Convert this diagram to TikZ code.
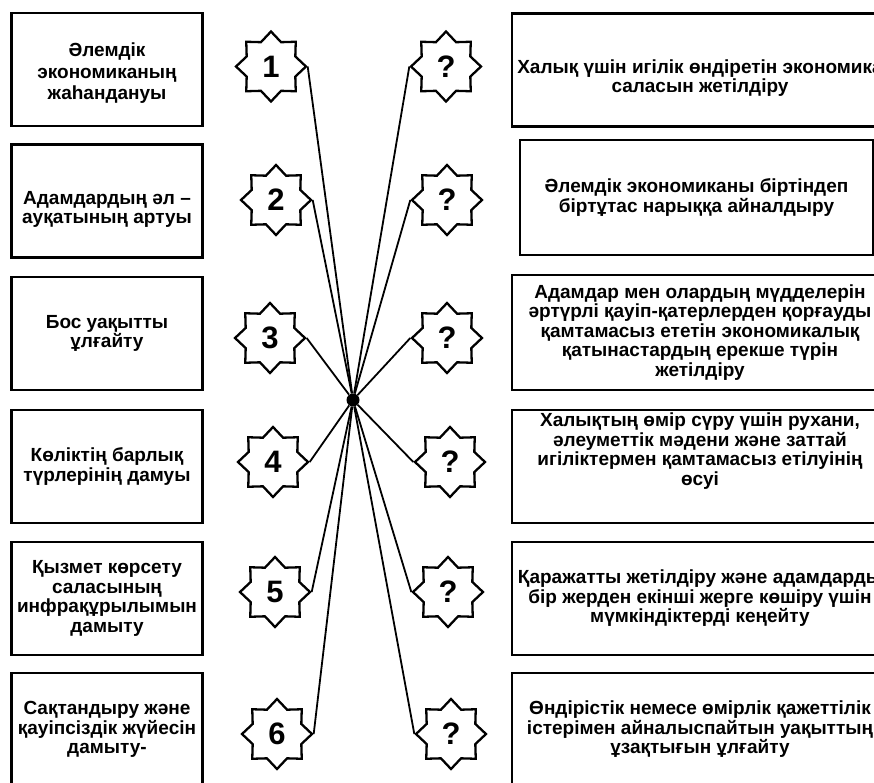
\documentclass[tikz,border=0pt]{standalone}
\usepackage{fontspec}
\setmainfont{Liberation Sans}
\usetikzlibrary{shapes.geometric}
\definecolor{kzink}{HTML}{000000}

\begin{document}
\begin{tikzpicture}[x=1pt, y=-1pt, line join=miter,
    box/.style={draw=kzink, line width=2.4pt, minimum height=113pt, inner sep=2pt, align=center,
      font=\fontsize{19}{19.5}\selectfont\bfseries},
    lbox/.style={box, minimum width=191pt},
    rbox/.style={box, minimum width=376pt},
    badge/.style={star, star points=8, star point ratio=1.33, draw=kzink, line width=2.3pt, fill=white,
      minimum size=70pt, inner sep=0pt, font=\fontsize{31}{31}\selectfont\bfseries},
    link/.style={draw=kzink, line width=1.8pt}]
  \useasboundingbox (0,0) rectangle (874,782);
  \clip (0,0) rectangle (874,782);
  \node[lbox] (lb1) at (107,69.5) {\rule{0pt}{21pt}Әлемдік\\[2pt]экономиканың\\[2pt]жаһандануы};
  \node[lbox] (lb2) at (107,201) {\rule{0pt}{30pt}Адамдардың әл –\\ауқатының артуы};
  \node[lbox] (lb3) at (107,333.5) {Бос уақытты\\ұлғайту};
  \node[lbox] (lb4) at (107,466.5) {Көліктің барлық\\түрлерінің дамуы};
  \node[lbox] (lb5) at (107,598.5) {Қызмет көрсету\\саласының\\инфрақұрылымын\\дамыту};
  \node[lbox] (lb6) at (107,729.5) {Сақтандыру және\\қауіпсіздік жүйесін\\дамыту-};
  \node[rbox] (rb1) at (700,70) {\rule{0pt}{30pt}Халық үшін игілік өндіретін экономика\\саласын жетілдіру};
  \node[rbox, minimum width=353pt, minimum height=115pt] (rb2) at (696.5,197.5)
    {Әлемдік экономиканы біртіндеп\\біртұтас нарыққа айналдыру};
  \node[rbox, minimum height=115pt] (rb3) at (700,332.5) {Адамдар мен олардың мүдделерін\\әртүрлі қауіп-қатерлерден қорғауды\\қамтамасыз ететін экономикалық\\қатынастардың ерекше түрін\\жетілдіру};
  \node[rbox] (rb4) at (700,466.5) {Халықтың өмір сүру үшін рухани,\\әлеуметтік мәдени және заттай\\игіліктермен қамтамасыз етілуінің\\өсуі\\[15pt]{}};
  \node[rbox] (rb5) at (700,598.5) {Қаражатты жетілдіру және адамдарды\\бір жерден екінші жерге көшіру үшін\\мүмкіндіктерді кеңейту};
  \node[rbox] (rb6) at (700,729.5) {Өндірістік немесе өмірлік қажеттілік\\істерімен айналыспайтын уақыттың\\ұзақтығын ұлғайту};
  \node[circle, fill=kzink, minimum size=13pt, inner sep=0pt] (hub) at (353,400) {};
  \foreach \i/\yy/\lx/\rx in {1/66.5/271/446, 2/200/276/447, 3/338/270/447,
                              4/462/273/450, 5/592/275/448, 6/734/277/451} {
    \node[badge] (ls\i) at (\lx,\yy) {\i};
    \node[badge] (rs\i) at (\rx,\yy) {?};
    \draw[link] (hub) -- (ls\i.east);
    \draw[link] (hub) -- (rs\i.west);
  }
\end{tikzpicture}
\end{document}
